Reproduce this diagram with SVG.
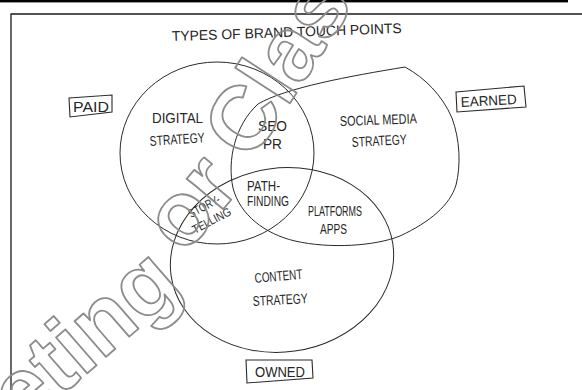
<svg xmlns="http://www.w3.org/2000/svg" width="582" height="390" viewBox="0 0 582 390">
<style>
.frame{stroke:#1a1a1a;stroke-width:1.3;fill:none}
.ring{stroke:#2a2a2a;stroke-width:1;fill:none}
.box{stroke:#2a2a2a;stroke-width:1.1;fill:none}
.lbl{font-family:"Liberation Sans",Arial,sans-serif;font-size:14px;fill:#262626}
.sm{font-size:12px}
.wm{font-family:"Liberation Sans",Arial,sans-serif;font-weight:bold;font-size:90px;fill:none;stroke:#8c8c8c;stroke-width:1.8;stroke-linejoin:round}
</style>
<rect x="0" y="0" width="582" height="390" fill="#fff"/>
<rect x="0" y="0" width="568" height="2.4" fill="#000"/>
<path class="frame" d="M11,390 V14 H582"/>

<g id="title">
<text class="lbl" transform="translate(172,41) rotate(-2)" font-size="16" textLength="230" lengthAdjust="spacingAndGlyphs">TYPES  OF  BRAND  TOUCH  POINTS</text>
</g>

<g id="paid">
<path class="box" d="M69,98 L112,95 L112,112 L70,117 Z"/>
<text class="lbl" x="73" y="112" textLength="36" lengthAdjust="spacingAndGlyphs">PAID</text>
</g>

<g id="earned">
<path class="box" d="M456,92 L524,86 L526,107 L457,112 Z"/>
<text class="lbl" transform="translate(461,107) rotate(-3)" textLength="56" lengthAdjust="spacingAndGlyphs">EARNED</text>
</g>

<g id="owned">
<path class="box" d="M246,360 L312,360 L313,378 L247,383 Z"/>
<text class="lbl" x="255" y="377" textLength="50" lengthAdjust="spacingAndGlyphs">OWNED</text>
</g>

<g id="digital-strategy">
<ellipse class="ring" cx="217" cy="153" rx="97" ry="91"/>
<text class="lbl" x="152" y="123" textLength="51" lengthAdjust="spacingAndGlyphs">DIGITAL</text>
<text class="lbl" transform="translate(150,146) rotate(-4)" textLength="55" lengthAdjust="spacingAndGlyphs">STRATEGY</text>
</g>

<g id="social-media-strategy">
<path class="ring" d="M405,67 C425,78 442,95 452,118 C460,140 461,165 456,185 C450,205 430,222 400,236 C375,246 330,249 295,241 C265,234 240,215 233,188 C227,160 235,125 258,104 C285,88 350,76 405,67 Z"/>
<text class="lbl" transform="translate(340,126) rotate(-2)" textLength="77" lengthAdjust="spacingAndGlyphs">SOCIAL MEDIA</text>
<text class="lbl" transform="translate(352,147) rotate(-3)" textLength="55" lengthAdjust="spacingAndGlyphs">STRATEGY</text>
</g>

<g id="content-strategy">
<ellipse class="ring" cx="282" cy="260" rx="112" ry="92" transform="rotate(-8 282 260)"/>
<text class="lbl" transform="translate(255,283) rotate(-5)" textLength="48" lengthAdjust="spacingAndGlyphs">CONTENT</text>
<text class="lbl" transform="translate(253,306) rotate(-3)" textLength="55" lengthAdjust="spacingAndGlyphs">STRATEGY</text>
</g>

<g id="seo-pr">
<text class="lbl" x="258" y="131" textLength="29" lengthAdjust="spacingAndGlyphs">SEO</text>
<text class="lbl" x="263" y="149" textLength="19" lengthAdjust="spacingAndGlyphs">PR</text>
</g>

<g id="path-finding">
<text class="lbl" x="247" y="191" textLength="33" lengthAdjust="spacingAndGlyphs">PATH-</text>
<text class="lbl" x="247" y="206" textLength="42" lengthAdjust="spacingAndGlyphs">FINDING</text>
</g>

<g id="story-telling">
<text class="lbl sm" transform="translate(191,218) rotate(-28)" textLength="34" lengthAdjust="spacingAndGlyphs">STORY-</text>
<text class="lbl sm" transform="translate(195,234) rotate(-28)" textLength="42" lengthAdjust="spacingAndGlyphs">TELLING</text>
</g>

<g id="platforms-apps">
<text class="lbl" x="308" y="216" textLength="54" lengthAdjust="spacingAndGlyphs">PLATFORMS</text>
<text class="lbl" x="320" y="234" textLength="27" lengthAdjust="spacingAndGlyphs">APPS</text>
</g>

<g id="watermark">
<text class="wm" transform="translate(22,430) rotate(-41)">eting</text>
<text class="wm" transform="translate(184,256) rotate(-50)">or</text>
<text class="wm" transform="translate(251,163) rotate(-57)">Class</text>
</g>
</svg>
